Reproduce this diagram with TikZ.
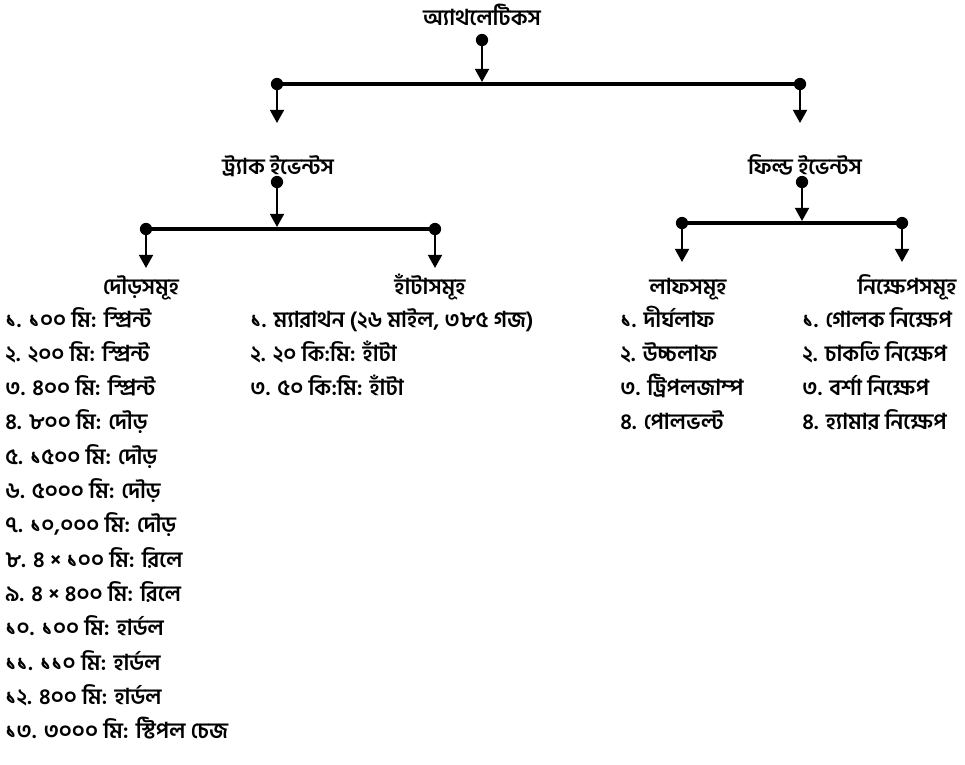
\documentclass[tikz,border=0pt]{standalone}
\usepackage{fontspec}
\setmainfont{Hind Siliguri}[Script=Bengali]
\usetikzlibrary{arrows.meta}
\begin{document}
\begin{tikzpicture}[x=.02cm, y=-.02cm, font=\fontsize{12.5}{15}\selectfont\bfseries, line join=round, line cap=round, >={Triangle[width=8pt,length=7.5pt]},
	dot/.style={circle, fill, inner sep=0pt, minimum size=7pt},
	bar/.style={line width=2.2pt},
	stem/.style={->, line width=1.1pt},
	head/.style={anchor=base, inner sep=0pt},
	item/.style={anchor=base west, inner sep=0pt}]
	\useasboundingbox (0,0) rectangle (965,765);
	% অ্যাথলেটিকস
	\node[head] (ath) at (482,25) {অ্যাথলেটিকস};
	\node[dot] (d0) at (482,40) {};
	\node[dot] (bl) at (277,84) {};
	\node[dot] (br) at (800,84) {};
	\coordinate (b0) at (482,82);
	\draw[bar] (bl.center)--(br.center);
	\draw[stem] (d0.center)--(b0);
	\coordinate (tt) at (277,123);
	\coordinate (ft) at (800,123);
	\draw[stem] (bl.center)--(tt);
	\draw[stem] (br.center)--(ft);
	% ট্র্যাক ইভেন্টস
	\node[head] (track) at (278,174) {ট্র্যাক ইভেন্টস};
	\node[dot] (d1) at (277,182) {};
	\node[dot] (t1) at (146,229) {};
	\node[dot] (t2) at (435,229) {};
	\coordinate (b1) at (277,227);
	\draw[bar] (t1.center)--(t2.center);
	\draw[stem] (d1.center)--(b1);
	\coordinate (rt) at (146,268);
	\coordinate (wt) at (435,268);
	\draw[stem] (t1.center)--(rt);
	\draw[stem] (t2.center)--(wt);
	% ফিল্ড ইভেন্টস
	\node[head] (field) at (805,174) {ফিল্ড ইভেন্টস};
	\node[dot] (d2) at (802,182) {};
	\node[dot] (f1) at (682,223) {};
	\node[dot] (f2) at (902,223) {};
	\coordinate (b2) at (802,221);
	\draw[bar] (f1.center)--(f2.center);
	\draw[stem] (d2.center)--(b2);
	\coordinate (jt) at (682,262);
	\coordinate (nt) at (902,262);
	\draw[stem] (f1.center)--(jt);
	\draw[stem] (f2.center)--(nt);
	% শাখাগুলো
	\node[head] (run) at (141,294) {দৌড়সমূহ};
	\node[head] (walk) at (430,294) {হাঁটাসমূহ};
	\node[head] (jump) at (688,294) {লাফসমূহ};
	\node[head] (throw) at (907,294) {নিক্ষেপসমূহ};
	\foreach \t [count=\i] in {{১. ১০০ মি: স্প্রিন্ট}, {২. ২০০ মি: স্প্রিন্ট}, {৩. ৪০০ মি: স্প্রিন্ট}, {৪. ৮০০ মি: দৌড়}, {৫. ১৫০০ মি: দৌড়}, {৬. ৫০০০ মি: দৌড়}, {৭. ১০,০০০ মি: দৌড়}, {৮. ৪ × ১০০ মি: রিলে}, {৯. ৪ × ৪০০ মি: রিলে}, {১০. ১০০ মি: হার্ডল}, {১১. ১১০ মি: হার্ডল}, {১২. ৪০০ মি: হার্ডল}, {১৩. ৩০০০ মি: স্টিপল চেজ}}
		\node[item] (run\i) at (5,{327+34.3*(\i-1)}) {\t};
	\foreach \t [count=\i] in {{১. ম্যারাথন (২৬ মাইল, ৩৮৫ গজ)}, {২. ২০ কি:মি: হাঁটা}, {৩. ৫০ কি:মি: হাঁটা}}
		\node[item] (walk\i) at (250,{327+34.3*(\i-1)}) {\t};
	\foreach \t [count=\i] in {{১. দীর্ঘলাফ}, {২. উচ্চলাফ}, {৩. ট্রিপলজাম্প}, {৪. পোলভল্ট}}
		\node[item] (jump\i) at (620,{327+34.3*(\i-1)}) {\t};
	\foreach \t [count=\i] in {{১. গোলক নিক্ষেপ}, {২. চাকতি নিক্ষেপ}, {৩. বর্শা নিক্ষেপ}, {৪. হ্যামার নিক্ষেপ}}
		\node[item] (throw\i) at (802,{327+34.3*(\i-1)}) {\t};
\end{tikzpicture}
\end{document}
